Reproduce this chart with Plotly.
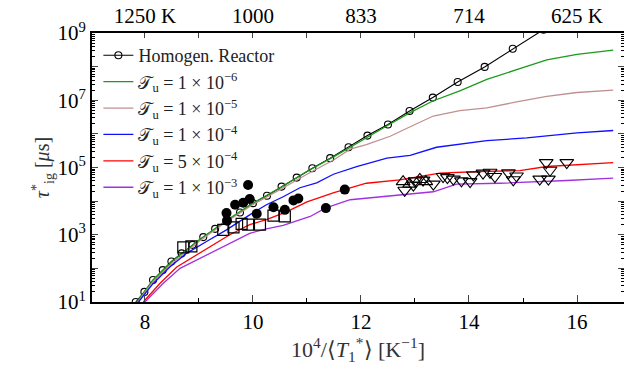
import plotly.graph_objects as go

# ---------------- data ----------------
homog_x = [7.83, 7.99, 8.15, 8.33, 8.49, 8.68, 8.88, 9.08, 9.30, 9.51, 9.76, 10.0, 10.26,
           10.53, 10.81, 11.1, 11.43, 11.77, 12.12, 12.5, 12.9, 13.33, 13.79, 14.29, 14.81, 15.38]
homog_y = [1.0e1, 2.0e1, 4.5e1, 8.9e1, 1.6e2, 2.8e2, 5.0e2, 8.5e2, 1.5e3, 2.6e3, 4.6e3, 8.7e3, 1.45e4,
           2.7e4, 5.0e4, 9.5e4, 1.9e5, 4.0e5, 8.9e5, 1.9e6, 4.8e6, 1.2e7, 3.5e7, 9.8e7, 3.4e8, 1.26e9]

tu1e6_x = [7.85, 8.15, 8.5, 9.0, 9.5, 10.0, 10.5, 11.0, 11.5, 12.0, 12.5, 12.91, 13.33, 13.83,
           14.33, 14.94, 15.44, 16.0, 16.67]
tu1e6_y = [1.0e1, 4.5e1, 1.6e2, 7.0e2, 2.6e3, 8.7e3, 2.5e4, 7.6e4, 2.1e5, 6.3e5, 1.8e6, 4.3e6, 9.5e6,
           1.9e7, 4.2e7, 8.7e7, 1.6e8, 2.3e8, 3.1e8]

tu1e5_x = [7.87, 8.15, 8.5, 9.0, 9.5, 10.0, 10.5, 11.0, 11.5, 11.8, 12.1, 12.54, 13.0, 13.34, 13.83,
           14.33, 14.88, 15.44, 16.0, 16.67]
tu1e5_y = [1.0e1, 4.0e1, 1.4e2, 6.3e2, 2.4e3, 7.9e3, 2.2e4, 6.3e4, 1.7e5, 3.5e5, 4.8e5, 8.5e5, 1.9e6,
           3.4e6, 4.9e6, 5.9e6, 8.9e6, 1.3e7, 1.7e7, 2.0e7]

tu1e4_x = [7.88, 8.15, 8.46, 8.77, 9.14, 9.51, 9.94, 10.25, 10.56, 10.87, 11.18, 11.49, 11.92, 12.48,
           12.91, 13.40, 14.33, 15.07, 16.0, 16.67]
tu1e4_y = [1.0e1, 3.5e1, 1.1e2, 2.8e2, 6.3e2, 1.4e3, 3.9e3, 7.8e3, 1.35e4, 2.5e4, 3.5e4, 6.3e4, 1.07e5,
           1.9e5, 2.3e5, 4.0e5, 6.3e5, 7.6e5, 1.07e6, 1.26e6]

tu5e4_x = [7.97, 8.28, 8.59, 8.89, 9.2, 9.57, 9.94, 10.25, 10.62, 11.0, 11.5, 12.1, 12.72, 13.46,
           14.2, 14.94, 15.44, 16.67]
tu5e4_y = [1.0e1, 3.6e1, 1.1e2, 2.2e2, 4.5e2, 1.0e3, 2.0e3, 2.8e3, 4.8e3, 9.5e3, 1.8e4, 3.4e4, 4.3e4,
           6.8e4, 7.6e4, 8.1e4, 1.07e5, 1.4e5]

tu1e3_x = [8.0, 8.34, 8.65, 8.96, 9.26, 9.57, 9.94, 10.25, 10.56, 11.06, 11.35, 11.8, 12.5, 13.34,
           13.77, 14.57, 15.81, 16.67]
tu1e3_y = [1.0e1, 3.6e1, 1.0e2, 1.8e2, 3.2e2, 5.6e2, 1.1e3, 1.5e3, 1.9e3, 3.5e3, 6.3e3, 1.1e4, 1.4e4,
           1.9e4, 3.2e4, 3.4e4, 4.1e4, 4.8e4]

dots_x = [9.51, 9.52, 9.67, 9.82, 9.91, 9.94, 10.07, 10.38, 10.59, 10.75, 10.84, 11.35, 11.70]
dots_y = [4.4e3, 2.6e3, 7.8e3, 8.9e3, 3.0e4, 1.15e4, 4.2e3, 6.6e3, 5.5e3, 1.05e4, 1.2e4, 6.2e3, 2.2e4]

squares_x = [8.71, 8.86, 9.45, 9.64, 9.79, 9.91, 10.13, 10.38, 10.59]
squares_y = [4.2e2, 4.5e2, 1.4e3, 1.65e3, 2.1e3, 2.0e3, 2.0e3, 3.7e3, 3.5e3]

tri_dn_x = [12.81, 12.97, 13.0, 13.15, 13.34, 13.52, 13.6, 13.71, 13.86, 14.02, 14.08, 14.26, 14.39,
            14.48, 14.73, 14.82, 14.88, 15.31, 15.43, 15.47, 15.5, 15.81]
tri_dn_y = [2.1e4, 3.0e4, 4.0e4, 4.2e4, 3.2e4, 5.4e4, 5.0e4, 4.5e4, 4.0e4, 3.8e4, 6.0e4, 6.8e4, 7.2e4,
            5.4e4, 6.9e4, 4.3e4, 5.6e4, 4.5e4, 1.4e5, 4.5e4, 8.3e4, 1.4e5]

tri_up_x = [12.78, 12.9, 13.09, 13.2]
tri_up_y = [3.8e4, 3.2e4, 4.4e4, 3.8e4]

bottom_tickvals = [8, 10, 12, 14, 16]
bottom_ticktext = ["8", "10", "12", "14", "16"]
top_tickvals = [8, 9, 10, 11, 12, 13, 14, 15, 16]
top_ticktext = ["1250 K", "", "1000", "", "833", "", "714", "", "625 K"]
y_tickvals = [1e1, 1e2, 1e3, 1e4, 1e5, 1e6, 1e7, 1e8, 1e9]
y_ticktext = ["10<sup>1</sup>", "", "10<sup>3</sup>", "", "10<sup>5</sup>", "",
              "10<sup>7</sup>", "", "10<sup>9</sup>"]

series = [
    ("𝒯<sub>u</sub> = 1 × 10<sup>−6</sup>", tu1e6_x, tu1e6_y, "#1a9a1a"),
    ("𝒯<sub>u</sub> = 1 × 10<sup>−5</sup>", tu1e5_x, tu1e5_y, "#c09090"),
    ("𝒯<sub>u</sub> = 1 × 10<sup>−4</sup>", tu1e4_x, tu1e4_y, "#1010ff"),
    ("𝒯<sub>u</sub> = 5 × 10<sup>−4</sup>", tu5e4_x, tu5e4_y, "#ff0000"),
    ("𝒯<sub>u</sub> = 1 × 10<sup>−3</sup>", tu1e3_x, tu1e3_y, "#a030e0"),
]

FONT = "Liberation Serif"
fig = go.Figure()

fig.add_trace(go.Scatter(x=homog_x, y=homog_y, mode="lines+markers", name="Homogen. Reactor",
                         line=dict(color="black", width=1.1),
                         marker=dict(symbol="circle-open", size=7, color="black",
                                     line=dict(width=1.1)),
                         legendrank=1))
for i, (nm, xs, ys, col) in enumerate(series):
    fig.add_trace(go.Scatter(x=xs, y=ys, mode="lines", name=nm,
                             line=dict(color=col, width=1.3), legendrank=2 + i))

fig.add_trace(go.Scatter(x=dots_x, y=dots_y, mode="markers", showlegend=False,
                         marker=dict(symbol="circle", size=10, color="black")))
fig.add_trace(go.Scatter(x=squares_x, y=squares_y, mode="markers", showlegend=False,
                         marker=dict(symbol="square-open", size=11, color="black",
                                     line=dict(width=1.2))))
fig.add_trace(go.Scatter(x=tri_dn_x, y=tri_dn_y, mode="markers", showlegend=False,
                         marker=dict(symbol="triangle-down-open", size=12, color="black",
                                     line=dict(width=1.1))))
fig.add_trace(go.Scatter(x=tri_up_x, y=tri_up_y, mode="markers", showlegend=False,
                         marker=dict(symbol="triangle-up-open", size=12, color="black",
                                     line=dict(width=1.1))))
# invisible trace to activate the top axis
fig.add_trace(go.Scatter(x=[8], y=[1e1], xaxis="x2", mode="markers", showlegend=False,
                         marker=dict(opacity=0), hoverinfo="skip"))

fig.update_layout(
    width=624, height=373,
    margin=dict(l=92, r=0, t=33, b=71, autoexpand=False),
    plot_bgcolor="white", paper_bgcolor="white",
    font=dict(family=FONT, size=18, color="black"),
    showlegend=True,
    legend=dict(x=0.012, y=0.985, xanchor="left", yanchor="top", bgcolor="rgba(0,0,0,0)",
                font=dict(family=FONT, size=18, color="#222"), tracegroupgap=0,
                itemwidth=30),
    xaxis=dict(range=[7.02, 16.87], tickmode="array", tickvals=bottom_tickvals,
               ticktext=bottom_ticktext, ticks="inside", ticklen=7, tickwidth=1,
               showline=True, linecolor="black", linewidth=2, mirror=False,
               showgrid=False, zeroline=False, automargin=False,
               tickfont=dict(family=FONT, size=21),
               minor=dict(tickmode="array", tickvals=[9, 11, 13, 15], ticks="inside",
                          ticklen=4, tickcolor="black", showgrid=False),
               title=dict(text="10<sup>4</sup>/⟨<i>T</i><sub>1</sub><sup>*</sup>⟩ [K<sup>−1</sup>]",
                          font=dict(family=FONT, size=22, color="#333"), standoff=4)),
    xaxis2=dict(overlaying="x", side="top", matches="x", tickmode="array",
                tickvals=top_tickvals, ticktext=top_ticktext, ticks="inside", ticklen=5,
                showline=True, linecolor="black", linewidth=2, showgrid=False,
                zeroline=False, automargin=False, tickfont=dict(family=FONT, size=21)),
    yaxis=dict(type="log", range=[1, 9], tickmode="array", tickvals=y_tickvals,
               ticktext=y_ticktext, ticks="inside", ticklen=6, showline=True,
               linecolor="black", linewidth=2, mirror="ticks", showgrid=False,
               zeroline=False, automargin=False, tickfont=dict(family=FONT, size=21),
               minor=dict(ticks="inside", ticklen=3, dtick="D1", tickcolor="black",
                          showgrid=False),
               title=dict(text="<i>τ</i><sup>*</sup><sub>ig</sub> [<i>μ</i>s]",
                          font=dict(family=FONT, size=20, color="#333"), standoff=2)),
)

fig.write_html("out.html", config={"displayModeBar": False},
               post_script="document.body.style.margin='0';document.body.style.overflow='hidden';")
